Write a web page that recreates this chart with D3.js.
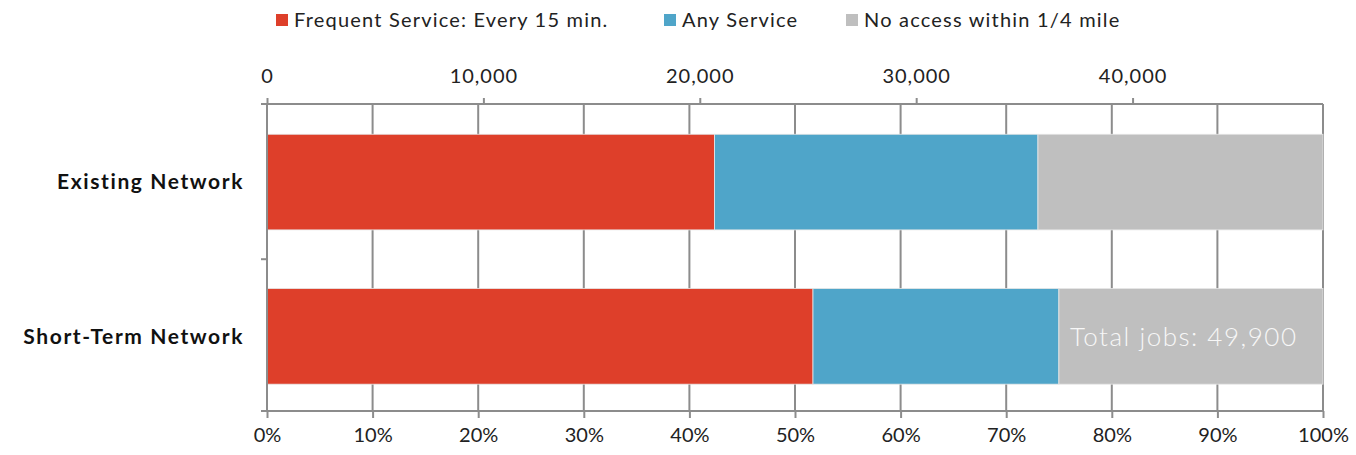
<!DOCTYPE html>
<html><head><meta charset="utf-8">
<script src="https://cdn.jsdelivr.net/npm/d3@7"></script>
<style>
body{margin:0;background:#fff;}
text{font-family:Lato,"Open Sans",sans-serif;}
</style></head>
<body>
<svg id="c" width="1356" height="455"></svg>
<script>
const categories = ["Existing Network", "Short-Term Network"];
const seriesNames = ["Frequent Service: Every 15 min.", "Any Service", "No access within 1/4 mile"];
const frequent = [21150, 25800];
const anyService = [15280, 11620];
const noAccess = [13470, 12480];
const totalJobs = 49900;
const jobsAxisMax = 48800;
const jobTicks = [0, 10000, 20000, 30000, 40000];
const pctTicks = [0,0.1,0.2,0.3,0.4,0.5,0.6,0.7,0.8,0.9,1.0];
const colors = ["#de3f2a", "#4fa5c9", "#bfbfbf"];

const svg = d3.select("#c");
const m = {l:267, r:1323, t:104, b:411};
const x = d3.scaleLinear().domain([0,1]).range([m.l, m.r]);
const xJobs = d3.scaleLinear().domain([0, jobsAxisMax]).range([m.l, m.r]);
const y = d3.scaleBand().domain(categories).range([m.t, m.b]).paddingInner(0.38).paddingOuter(0.185).align(0.53);

const gridColor = "#8c8c8c";

// gridlines
svg.append("g").selectAll("line").data(pctTicks.slice(1)).join("line")
  .attr("x1", d=>x(d)).attr("x2", d=>x(d)).attr("y1", m.t).attr("y2", m.b)
  .attr("stroke", gridColor).attr("stroke-width", 2);

// stacked data
const rows = categories.map((c,i)=>({cat:c, v:[frequent[i], anyService[i], noAccess[i]]}));
const keys = [0,1,2];
const stack = d3.stack().keys(keys).value((d,k)=>d.v[k]/totalJobs)(rows);

svg.append("g").selectAll("g").data(stack).join("g")
  .attr("fill", (d,i)=>colors[i])
  .selectAll("rect").data(d=>d).join("rect")
  .attr("x", d=>x(d[0])).attr("width", d=>x(d[1])-x(d[0]))
  .attr("y", d=>y(d.data.cat)).attr("height", y.bandwidth())
  .attr("stroke", "#e6e6e6").attr("stroke-width", 0.8);

// axes
const axColor = "#8c8c8c";
// bottom axis
const gb = svg.append("g").attr("transform", `translate(0,${m.b})`)
  .call(d3.axisBottom(x).tickValues(pctTicks).tickFormat(d3.format(".0%")).tickSize(7).tickSizeOuter(0));
gb.select(".domain").remove();
gb.append("line").attr("x1", m.l-6).attr("x2", m.r).attr("stroke", axColor).attr("stroke-width", 2);
gb.selectAll(".tick line").attr("stroke", axColor).attr("stroke-width", 2);
gb.selectAll(".tick text").attr("fill", "#222").attr("font-size", 20).attr("dy", "1.05em").attr("font-family", "Lato");

// top axis
const gt = svg.append("g").attr("transform", `translate(0,${m.t})`)
  .call(d3.axisTop(xJobs).tickValues(jobTicks).tickFormat(d3.format(",")).tickSize(6).tickSizeOuter(0));
gt.select(".domain").remove();
gt.append("line").attr("x1", m.l-6).attr("x2", m.r).attr("stroke", axColor).attr("stroke-width", 2);
gt.selectAll(".tick line").attr("stroke", axColor).attr("stroke-width", 2);
gt.selectAll(".tick text").attr("fill", "#222").attr("font-size", 20).attr("letter-spacing", 1)
  .attr("dy", "-0.6em").attr("font-family", "Lato");

// left axis
const gl = svg.append("g");
gl.append("line").attr("x1", m.l).attr("x2", m.l).attr("y1", m.t).attr("y2", m.b).attr("stroke", axColor).attr("stroke-width", 2);
const bounds = [m.t, (y(categories[0])+y.bandwidth()+y(categories[1]))/2, m.b];
gl.selectAll("line.t").data(bounds).join("line").attr("class","t")
  .attr("x1", m.l-6).attr("x2", m.l).attr("y1", d=>d).attr("y2", d=>d)
  .attr("stroke", axColor).attr("stroke-width", 2);
gl.selectAll("text").data(categories).join("text")
  .attr("x", 244).attr("y", d=>y(d)+y.bandwidth()/2).attr("dy", "0.35em")
  .attr("text-anchor", "end").attr("font-size", 21).attr("font-weight", 700).attr("fill", "#111")
  .attr("letter-spacing", 1.6)
  .text(d=>d);

// annotation
svg.append("text").attr("x", 1070).attr("y", y(categories[1])+y.bandwidth()/2).attr("dy","0.36em")
  .attr("font-size", 26).attr("font-weight", 300).attr("fill", "#f7f7f7").attr("letter-spacing", 1.5)
  .text("Total jobs: " + d3.format(",")(totalJobs));

// legend
const legX = [276, 664, 846];
const lg = svg.append("g").selectAll("g").data(seriesNames).join("g")
  .attr("transform", (d,i)=>`translate(${legX[i]},14)`);
lg.append("rect").attr("width", 12).attr("height", 12).attr("fill", (d,i)=>colors[i]);
lg.append("text").attr("x", 18).attr("y", 6).attr("dy", "0.36em").attr("font-size", 20)
  .attr("letter-spacing", 1.2).attr("fill", "#222").text(d=>d);
</script>
</body></html>
